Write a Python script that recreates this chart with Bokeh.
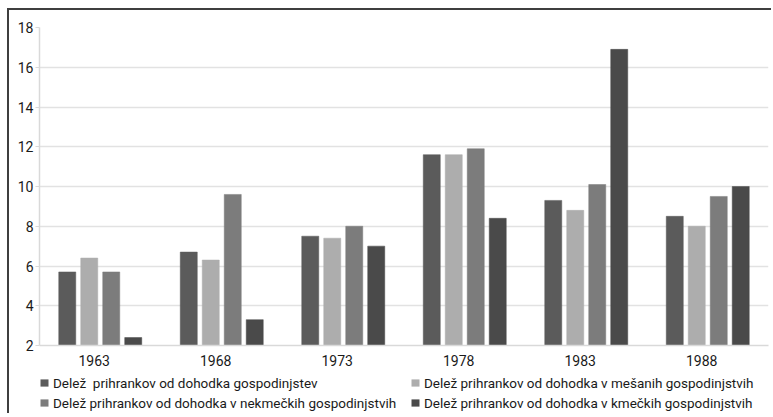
from bokeh.plotting import figure
from bokeh.layouts import column
from bokeh.models import Legend, LegendItem, FixedTicker, ColumnDataSource
from bokeh.embed import file_html
from bokeh.resources import INLINE

# ---- data ----
years = ["1963", "1968", "1973", "1978", "1983", "1988"]
series_names = [
    "Delež  prihrankov od dohodka gospodinjstev",
    "Delež prihrankov od dohodka v mešanih gospodinjstvih",
    "Delež prihrankov od dohodka v nekmečkih gospodinjstvih",
    "Delež prihrankov od dohodka v kmečkih gospodinjstvih",
]
share_all = [5.7, 6.7, 7.5, 11.6, 9.3, 8.5]
share_mixed = [6.4, 6.3, 7.4, 11.6, 8.8, 8.0]
share_nonfarm = [5.7, 9.6, 8.0, 11.9, 10.1, 9.5]
share_farm = [2.4, 3.3, 7.0, 8.4, 16.9, 10.0]
y_ticks = [2, 4, 6, 8, 10, 12, 14, 16, 18]

series = [share_all, share_mixed, share_nonfarm, share_farm]
colors = ["#5b5b5b", "#adadad", "#7c7c7c", "#4a4a4a"]

FONT = "Roboto"

group_shift = 0.05
bar_step = 0.181
bar_width = 0.14
idx = list(range(len(years)))

p = figure(
    width=762, height=358,
    x_range=(-0.5 + group_shift, len(years) - 0.5 + group_shift),
    y_range=(y_ticks[0], y_ticks[-1]),
    output_backend="svg", toolbar_location=None,
    min_border_left=30, min_border_right=3, min_border_top=17, min_border_bottom=20,
)
p.outline_line_color = None
p.background_fill_color = "white"
p.border_fill_color = "white"

sources = []
for k, vals in enumerate(series):
    off = group_shift + (k - 1.5) * bar_step
    sources.append(ColumnDataSource(dict(x=[i + off for i in idx], top=vals)))

for src, col in zip(sources, colors):
    p.vbar(x="x", top="top", bottom=y_ticks[0], width=bar_width, source=src,
           fill_color=col, line_color=col, line_width=0.5)

# axes
p.xaxis.ticker = FixedTicker(ticks=idx)
p.xaxis.major_label_overrides = {i: y for i, y in zip(idx, years)}
p.xaxis.major_tick_line_color = None
p.xaxis.minor_tick_line_color = None
p.xaxis.axis_line_color = "#d9d9d9"
p.xaxis.axis_line_width = 1.5
p.xaxis.major_label_text_font = FONT
p.xaxis.major_label_text_font_size = "14px"
p.xaxis.major_label_text_color = "#1a1a1a"
p.xaxis.major_label_standoff = 3

p.yaxis.ticker = FixedTicker(ticks=y_ticks)
p.yaxis.axis_line_color = "#d9d9d9"
p.yaxis.axis_line_width = 1.5
p.yaxis.major_tick_line_color = "#d9d9d9"
p.yaxis.major_tick_out = 4
p.yaxis.major_tick_in = 0
p.yaxis.minor_tick_line_color = None
p.yaxis.major_label_text_font = FONT
p.yaxis.major_label_text_font_size = "14px"
p.yaxis.major_label_text_color = "#1a1a1a"
p.yaxis.major_label_standoff = 2

p.xgrid.grid_line_color = None
p.ygrid.ticker = FixedTicker(ticks=y_ticks)
p.ygrid.grid_line_color = "#e2e2e2"
p.ygrid.grid_line_width = 1.5

# ---- legend strip (separate figure below the chart) ----
lf = figure(
    width=762, height=45, x_range=(0, 1), y_range=(-1, 0),
    x_axis_type=None, y_axis_type=None,
    output_backend="svg", toolbar_location=None, min_border=0,
)
lf.outline_line_color = None
lf.xgrid.grid_line_color = None
lf.ygrid.grid_line_color = None
leg_renderers = []
for src, col in zip(sources, colors):
    r = lf.vbar(x="x", top="top", bottom=y_ticks[0], width=bar_width, source=src,
                fill_color=col, line_color=None)
    r.visible = False
    leg_renderers.append(r)

row_bottoms = [22, 2]
for row in range(2):
    pair = [2 * row, 2 * row + 1]
    lg = Legend(
        items=[LegendItem(label=series_names[j], renderers=[leg_renderers[j]]) for j in pair],
        orientation="horizontal",
        location=(0, row_bottoms[row]),
        label_text_font=FONT, label_text_font_size="13.5px", label_text_color="#1a1a1a",
        glyph_width=10, glyph_height=9, label_standoff=4,
        label_width=353, label_height=17, spacing=4,
        padding=0, margin=0,
        inactive_fill_alpha=0,
        border_line_color=None, background_fill_alpha=0,
    )
    lf.add_layout(lg)

layout = column(p, lf, spacing=0, margin=(8, 0, 0, 7))
layout.styles = {"border-left": "2px solid #3f3f3f", "border-top": "2px solid #3f3f3f"}

open("out.html", "w").write(file_html(layout, INLINE))
